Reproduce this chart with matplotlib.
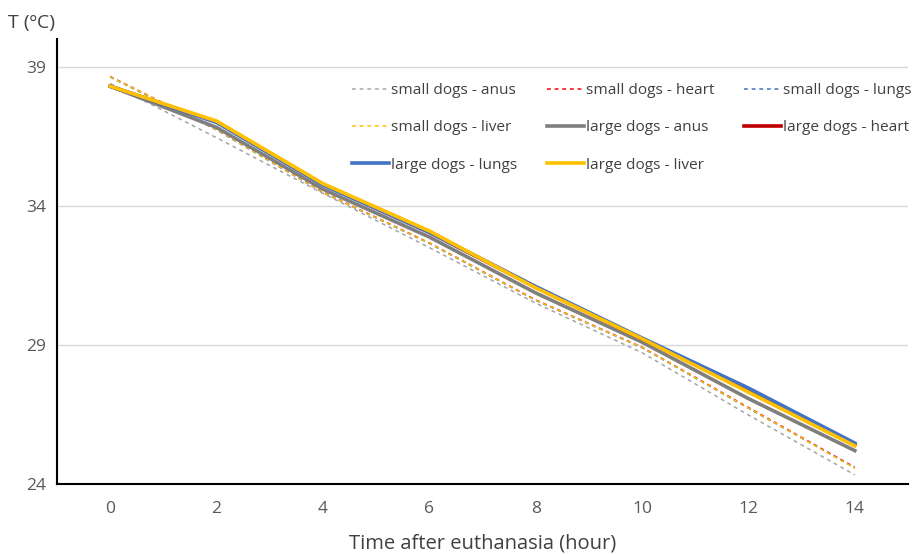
import matplotlib
matplotlib.use("Agg")
import matplotlib.pyplot as plt

hours = [0, 2, 4, 6, 8, 10, 12, 14]

small_anus = [38.40, 36.45, 34.45, 32.50, 30.50, 28.72, 26.48, 24.33]
small_heart = [38.65, 36.75, 34.50, 32.67, 30.62, 28.92, 26.75, 24.60]
small_lungs = [38.63, 36.73, 34.48, 32.65, 30.60, 28.90, 26.72, 24.58]
small_liver = [38.64, 36.74, 34.49, 32.66, 30.61, 28.91, 26.73, 24.57]

large_anus = [38.30, 36.82, 34.60, 32.88, 30.87, 29.10, 27.07, 25.20]
large_heart = [38.30, 37.02, 34.77, 33.05, 31.08, 29.22, 27.40, 25.42]
large_lungs = [38.30, 37.00, 34.75, 33.05, 31.10, 29.25, 27.45, 25.47]
large_liver = [38.30, 37.05, 34.80, 33.10, 31.05, 29.22, 27.30, 25.37]

y_ticks = [24, 29, 34, 39]

series = [
    ("small dogs - anus", small_anus, "#A5A5A5", "dashed"),
    ("small dogs - heart", small_heart, "#FF0000", "dashed"),
    ("small dogs - lungs", small_lungs, "#4472C4", "dashed"),
    ("small dogs - liver", small_liver, "#FFC000", "dashed"),
    ("large dogs - anus", large_anus, "#7F7F7F", "solid"),
    ("large dogs - heart", large_heart, "#C00000", "solid"),
    ("large dogs - lungs", large_lungs, "#4472C4", "solid"),
    ("large dogs - liver", large_liver, "#FFC000", "solid"),
]

plt.rcParams['font.family'] = ['Open Sans', 'DejaVu Sans']

fig = plt.figure(figsize=(9.14, 5.54), dpi=100)
ax = fig.add_axes([0.0624, 0.1264, 0.931, 0.8032])

lines = []
for label, values, color, style in series:
    if style == "dashed":
        ln, = ax.plot(hours, values, color=color, lw=1.1, ls=(0, (2.5, 2.5)), label=label)
    else:
        ln, = ax.plot(hours, values, color=color, lw=2.6, label=label)
    lines.append(ln)

ax.set_xlim(-1, 15)
ax.set_ylim(24, 40)
ax.set_xticks(hours)
ax.set_yticks(y_ticks)
ax.grid(axis="y", color="#D9D9D9", lw=1)
ax.set_axisbelow(True)
ax.tick_params(axis="x", length=0, labelsize=12.5, colors="#595959", pad=12)
ax.tick_params(axis="y", length=0, labelsize=12.5, colors="#595959", pad=8)
for side in ["top", "right"]:
    ax.spines[side].set_visible(False)
ax.spines["left"].set_linewidth(1.5)
ax.spines["bottom"].set_linewidth(1.5)

fig.text(0.009, 0.958, "T (ºC)", fontsize=14, color="#404040", va="center")
ax.set_xlabel("Time after euthanasia (hour)", fontsize=14.5, color="#404040", labelpad=12)

# matplotlib fills legend columns first; reorder so rows read like the original
order = [0, 3, 6, 1, 4, 7, 2, 5]
ax.legend([lines[i] for i in order], [series[i][0] for i in order],
          loc="upper left", bbox_to_anchor=(0.37, 0.875), bbox_transform=fig.transFigure,
          ncol=3, frameon=False, fontsize=11.1, handlelength=2.4, handletextpad=0.15,
          columnspacing=1.9, labelspacing=1.45, labelcolor="#404040")

fig.savefig("out.png", dpi=100)
